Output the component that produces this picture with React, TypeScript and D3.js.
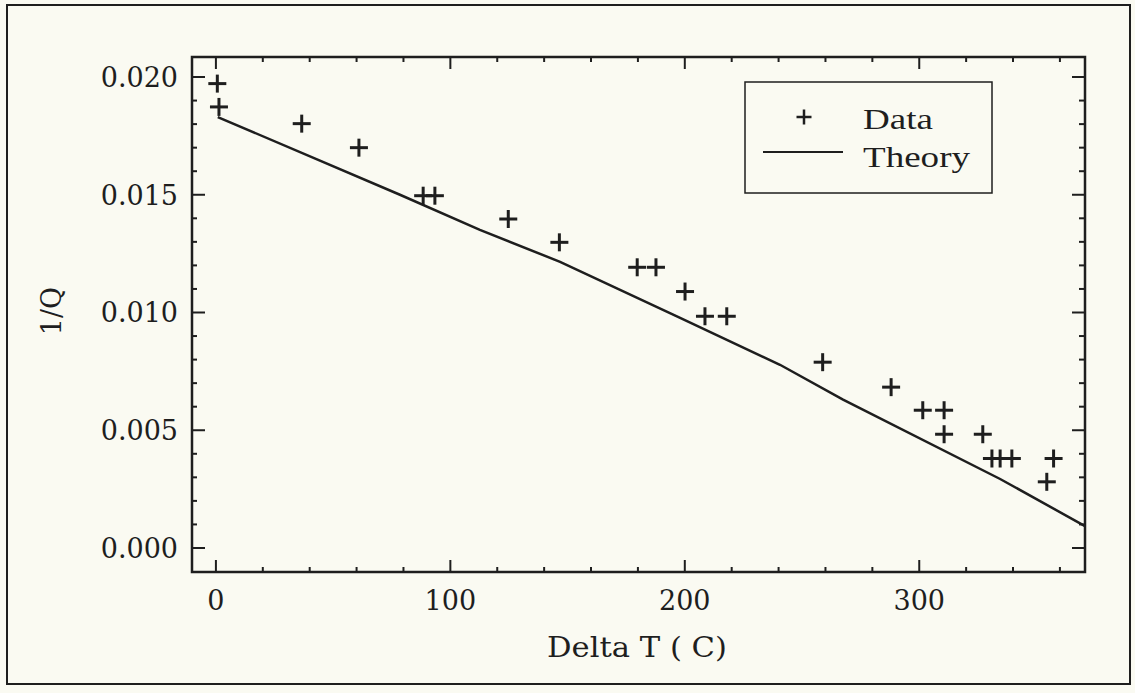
import React from "react";
import * as d3 from "d3";

// Measured damping: temperature difference (C) and inverse quality factor
const deltaT = [0.6, 1.3, 36.6, 61, 88.4, 93.4, 124.7, 146.5, 179.7, 187.7, 200.1, 208.6, 217.9, 258.8, 288, 301.5, 310.6, 310.6, 327.1, 331, 334.5, 339.5, 354.4, 357.3];
const invQ = [0.01972, 0.01873, 0.01802, 0.017, 0.01496, 0.01496, 0.01397, 0.01298, 0.01192, 0.01192, 0.01089, 0.00984, 0.00984, 0.00789, 0.00683, 0.00585, 0.00585, 0.00483, 0.00483, 0.0038, 0.0038, 0.0038, 0.00281, 0.0038];

// Theoretical curve
const theoryT = [0.8, 78.5, 112.6, 146.8, 198, 240.6, 267.5, 334.5, 370.7];
const theoryQ = [0.0183, 0.015, 0.01351, 0.01215, 0.00977, 0.00778, 0.0063, 0.00293, 0.00093];

const xMajor = [0, 100, 200, 300];
const yMajor = [0, 0.005, 0.01, 0.015, 0.02];

const W = 1135;
const H = 693;
const left = 192, right = 1085, top = 57, bottom = 572;
const ink = "#1e1e1e";
const tickFont = "'DejaVu Serif', serif";

export default function App() {
  const x = d3.scaleLinear().domain([-10.2, 370.7]).range([left, right]);
  const y = d3.scaleLinear().domain([-0.00102, 0.02085]).range([bottom, top]);

  const xMinor = d3.range(-0, 371, 20).filter((v) => v % 100 !== 0);
  const yMinor = d3.range(0, 21, 1).map((v) => v / 1000).filter((v, i) => i % 5 !== 0);

  const line = d3
    .line<number>()
    .x((_, i) => x(theoryT[i]))
    .y((d) => y(d));

  const plus = (cx: number, cy: number, r: number, sw: number, key: string | number) => (
    <g key={key} stroke={ink} strokeWidth={sw}>
      <line x1={cx - r} x2={cx + r} y1={cy} y2={cy} />
      <line x1={cx} x2={cx} y1={cy - r} y2={cy + r} />
    </g>
  );

  return (
    <svg
      width={W}
      height={H}
      style={{ position: "absolute", left: 0, top: 0, background: "#fafaf2" }}
    >
      <rect x={0} y={0} width={W} height={H} fill="#fafaf2" />
      {/* outer frame */}
      <rect x={7} y={5} width={1123} height={679} fill="none" stroke={ink} strokeWidth={2} />

      {/* plot frame */}
      <rect x={left} y={top} width={right - left} height={bottom - top} fill="none" stroke={ink} strokeWidth={2.5} />

      {/* x ticks, bottom and top, pointing inward */}
      {xMajor.map((v) => (
        <g key={"xm" + v} stroke={ink} strokeWidth={2}>
          <line x1={x(v)} x2={x(v)} y1={bottom} y2={bottom - 12} />
          <line x1={x(v)} x2={x(v)} y1={top} y2={top + 12} />
        </g>
      ))}
      {xMinor.map((v) => (
        <g key={"xn" + v} stroke={ink} strokeWidth={2}>
          <line x1={x(v)} x2={x(v)} y1={bottom} y2={bottom - 5} />
          <line x1={x(v)} x2={x(v)} y1={top} y2={top + 5} />
        </g>
      ))}
      {/* y ticks, left and right */}
      {yMajor.map((v) => (
        <g key={"ym" + v} stroke={ink} strokeWidth={2}>
          <line x1={left} x2={left + 13} y1={y(v)} y2={y(v)} />
          <line x1={right} x2={right - 13} y1={y(v)} y2={y(v)} />
        </g>
      ))}
      {yMinor.map((v) => (
        <g key={"yn" + v} stroke={ink} strokeWidth={2}>
          <line x1={left} x2={left + 5} y1={y(v)} y2={y(v)} />
          <line x1={right} x2={right - 6} y1={y(v)} y2={y(v)} />
        </g>
      ))}

      {/* tick labels */}
      {xMajor.map((v) => (
        <text key={"xl" + v} x={x(v)} y={610} textAnchor="middle" fontFamily={tickFont} fontSize={27} fill={ink}>
          {d3.format("d")(v)}
        </text>
      ))}
      {yMajor.map((v) => (
        <text key={"yl" + v} x={178} y={y(v) + 10} textAnchor="end" fontFamily={tickFont} fontSize={27} fill={ink}>
          {d3.format(".3f")(v)}
        </text>
      ))}

      {/* axis titles */}
      <text x={547} y={657} fontFamily={tickFont} fontSize={27} fill={ink} textLength={180} lengthAdjust="spacingAndGlyphs">
        Delta T ( C)
      </text>
      <text
        transform="translate(61,311) rotate(-90)"
        textAnchor="middle"
        fontFamily={tickFont}
        fontSize={27}
        fill={ink}
      >
        1/Q
      </text>

      {/* theory curve */}
      <path d={line(theoryQ) ?? ""} fill="none" stroke={ink} strokeWidth={2.5} />

      {/* data markers */}
      {deltaT.map((t, i) => plus(x(t), y(invQ[i]), 9, 3, "p" + i))}

      {/* legend */}
      <rect x={745} y={82} width={247} height={111} fill="none" stroke={ink} strokeWidth={1.5} />
      {plus(804, 117, 7.5, 2.5, "lg")}
      <line x1={763} x2={843} y1={152} y2={152} stroke={ink} strokeWidth={1.8} />
      <text x={863} y={129} fontFamily="'Liberation Serif', serif" fontSize={29} fill={ink} textLength={70} lengthAdjust="spacingAndGlyphs">
        Data
      </text>
      <text x={863} y={167} fontFamily="'Liberation Serif', serif" fontSize={29} fill={ink} textLength={107} lengthAdjust="spacingAndGlyphs">
        Theory
      </text>
    </svg>
  );
}
